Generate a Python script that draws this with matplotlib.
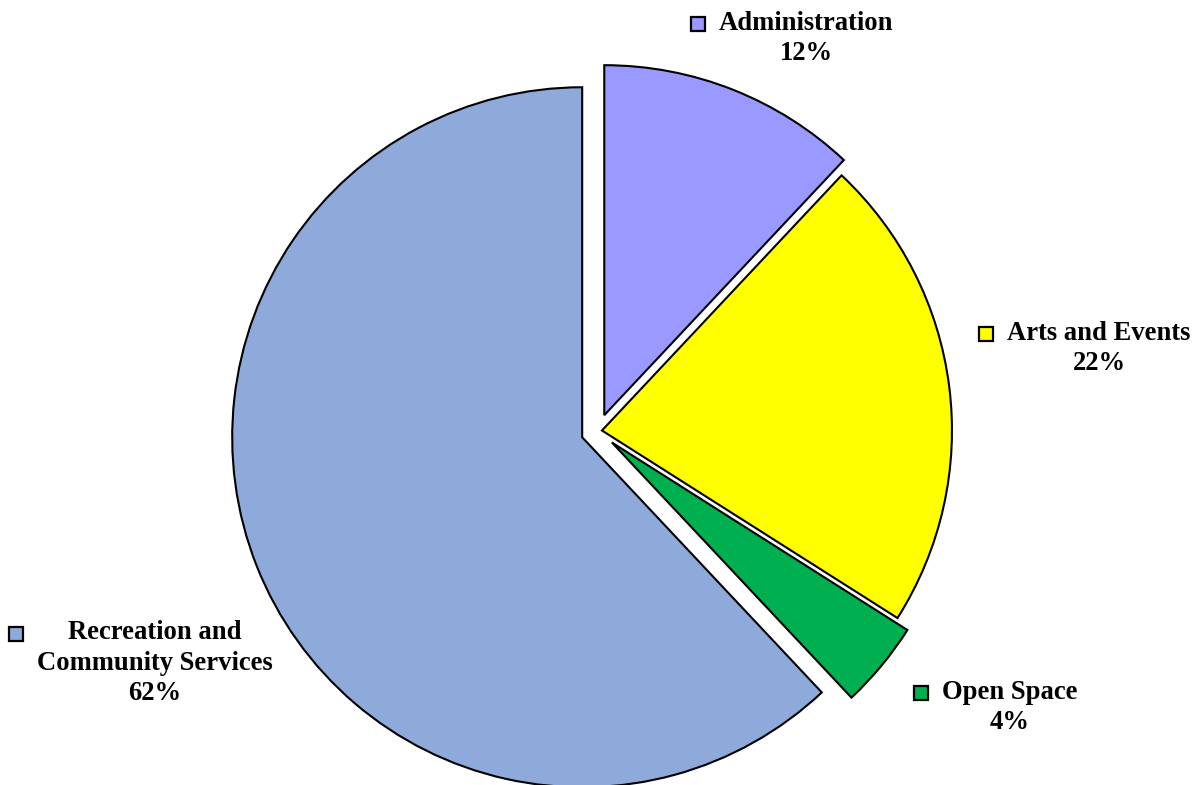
import matplotlib
matplotlib.use("Agg")
import matplotlib.pyplot as plt
from matplotlib.patches import Rectangle

# Budget shares by program area
categories = ["Administration", "Arts and Events", "Open Space",
              "Recreation and\nCommunity Services"]
shares = [12, 22, 4, 62]
colors = ["#9999FF", "#FFFF00", "#00B050", "#8EAADB"]

W, H = 1202, 785
fig = plt.figure(figsize=(W / 100, H / 100), dpi=100)
ax = fig.add_axes([0, 0, 1, 1])

# Work in pixel-like units so the pie sits where the layout wants it
center = (598, H - 431)
radius = 350
explode = [17, 4, 18, 17]

ax.pie(shares, colors=colors, startangle=90, counterclock=False,
       explode=explode, radius=radius, center=center,
       wedgeprops=dict(edgecolor="black", linewidth=1.5))
ax.set_xlim(0, W)
ax.set_ylim(0, H)
ax.set_aspect("equal")
ax.axis("off")

# Label blocks: (center x, center y) in pixel units from top-left
label_pos = [(806, 38.5), (1099, 348.5), (1010, 707.5), (155, 663)]
font = dict(family="Liberation Serif", weight="bold", size=19.2)

fig.canvas.draw()
renderer = fig.canvas.get_renderer()
key = 14
for name, val, col, (lx, ly) in zip(categories, shares, colors, label_pos):
    t = ax.text(lx, H - ly, f"{name}\n{val}%", ha="center", va="center",
                multialignment="center", linespacing=1.31, **font)
    bb = t.get_window_extent(renderer).transformed(ax.transData.inverted())
    n_lines = name.count("\n") + 2
    line_h = (bb.y1 - bb.y0) / n_lines
    # key square sits beside the first line, just left of the block
    ky = bb.y1 - line_h / 2 - key / 2 + 0.5
    kx = bb.x0 - 14 - key
    ax.add_patch(Rectangle((kx, ky), key, key, facecolor=col,
                           edgecolor="black", linewidth=1.6, zorder=5))

fig.savefig("out.png", dpi=100)
